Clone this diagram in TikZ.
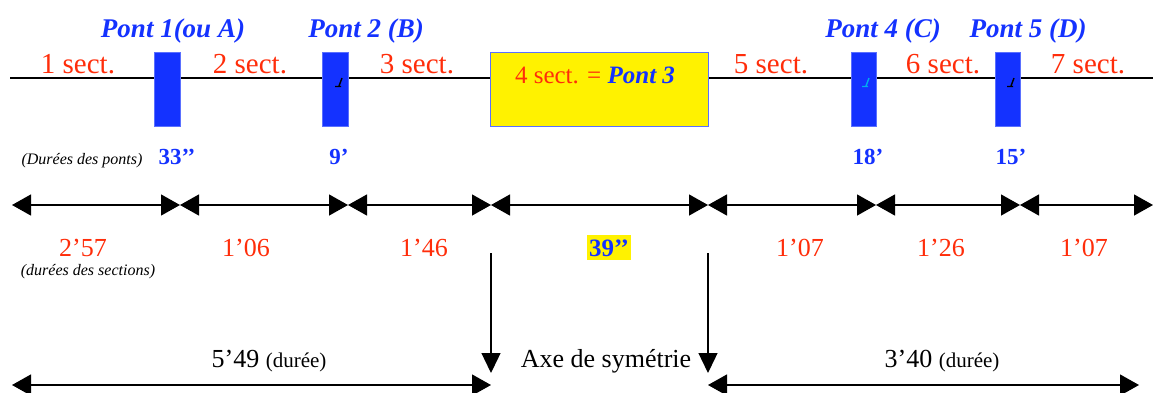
\documentclass[tikz,border=0pt]{standalone}
\usepackage{fontspec}
\setmainfont{Liberation Serif}
\usetikzlibrary{arrows.meta}
\definecolor{pontblue}{RGB}{20,50,255}
\definecolor{sectred}{RGB}{255,45,10}
\tikzset{
  pont/.style={fill=pontblue, draw=pontblue!70, line width=0.8pt, minimum height=74pt, inner sep=0pt},
  pontname/.style={anchor=base, text=pontblue, font=\fontsize{27}{27}\selectfont\bfseries\itshape},
  sect/.style={anchor=base, text=sectred, font=\fontsize{29}{29}\selectfont},
  duree/.style={anchor=base, text=sectred, font=\fontsize{26}{26}\selectfont},
  dureepont/.style={anchor=base, text=pontblue, font=\fontsize{23}{23}\selectfont\bfseries},
  remarque/.style={anchor=base, font=\fontsize{16}{16}\selectfont\itshape},
  total/.style={anchor=base, font=\fontsize{26}{26}\selectfont},
  cote/.style={line width=1.3pt, {Triangle[length=19pt,width=21pt]}-{Triangle[length=19pt,width=21pt]}},
  axe/.style={line width=1.3pt, -{Triangle[length=20pt,width=19pt]}}
}
\begin{document}
\begin{tikzpicture}[x=1pt, y=-1pt]
\useasboundingbox (0,0) rectangle (1153,392);
% la route
\coordinate (w) at (10,78);
\coordinate (e) at (1153,78);
\draw [line width=1.6pt] (w) -- (e);
% les ponts
\node [pont, minimum width=26pt] (p1) at (167,89) {};
\node [pont, minimum width=26pt] (p2) at (335,89) {};
\node [pont, fill=yellow, minimum width=218pt] (p3) at (599,89) {};
\node [pont, minimum width=25pt] (p4) at (863.5,89) {};
\node [pont, minimum width=25pt] (p5) at (1007.5,89) {};
\draw [line width=1.4pt] (342,78) -- (339,86) (335,86.5) -- (341,86.5);
\draw [cyan, line width=1.4pt] (869,78) -- (866,86) (862,86.5) -- (868,86.5);
\draw [line width=1.4pt] (1014,78) -- (1011,86) (1007,86.5) -- (1013,86.5);
\node [pontname] (n1) at (173,37) {Pont 1(ou A)};
\node [pontname] (n2) at (366,37) {Pont 2 (B)};
\node [pontname] (n4) at (883,37) {Pont 4 (C)};
\node [pontname] (n5) at (1028,37) {Pont 5 (D)};
% les sections
\node [sect] (s1) at (78,73) {1 sect.};
\node [sect] (s2) at (250,73) {2 sect.};
\node [sect] (s3) at (417,73) {3 sect.};
\node [anchor=base, font=\fontsize{25}{25}\selectfont] (s4) at (595,83)
  {\textcolor{sectred}{4 sect. =} \textcolor{pontblue}{\bfseries\itshape Pont 3}};
\node [sect] (s5) at (771,73) {5 sect.};
\node [sect] (s6) at (943,73) {6 sect.};
\node [sect] (s7) at (1088,73) {7 sect.};
% durees des ponts
\node [remarque] (rp) at (82,164) {(Durées des ponts)};
\node [dureepont] (d1) at (177,164) {33’’};
\node [dureepont] (d2) at (339,164) {9’};
\node [dureepont] (d4) at (868,164) {18’};
\node [dureepont] (d5) at (1011,164) {15’};
% cotes des sections
\coordinate (c0) at (12,205);
\coordinate (c1) at (180,205);
\coordinate (c2) at (348,205);
\coordinate (c3) at (491,205);
\coordinate (c4) at (708,205);
\coordinate (c5) at (876,205);
\coordinate (c6) at (1020,205);
\coordinate (c7) at (1153,205);
\draw [cote] (c0) -- (c1);
\draw [cote] (c1) -- (c2);
\draw [cote] (c2) -- (c3);
\draw [cote] (c3) -- (c4);
\draw [cote] (c4) -- (c5);
\draw [cote] (c5) -- (c6);
\draw [cote] (c6) -- (c7);
\node [duree] (t1) at (83,256) {2’57};
\node [duree] (t2) at (246,256) {1’06};
\node [duree] (t3) at (424,256) {1’46};
\node [dureepont, fill=yellow, inner xsep=2pt, inner ysep=4pt, font=\fontsize{25}{25}\selectfont\bfseries] (t4) at (609,256) {39’’};
\node [duree] (t5) at (800,256) {1’07};
\node [duree] (t6) at (941,256) {1’26};
\node [duree] (t7) at (1084,256) {1’07};
\node [remarque] (rs) at (88,275) {(durées des sections)};
% axe de symetrie
\coordinate (a1) at (491,253);
\coordinate (b1) at (491,373);
\coordinate (a2) at (708,253);
\coordinate (b2) at (708,373);
\draw [axe] (a1) -- (b1);
\draw [axe] (a2) -- (b2);
\node [total] (ax) at (606,367) {Axe de symétrie};
\node [total] (g) at (269,367) {5’49 {\fontsize{21}{21}\selectfont(durée)}};
\node [total] (d) at (942,367) {3’40 {\fontsize{21}{21}\selectfont(durée)}};
\coordinate (g0) at (12,385);
\coordinate (g1) at (491,385);
\coordinate (d0) at (708,385);
\coordinate (d1) at (1139,385);
\draw [cote] (g0) -- (g1);
\draw [cote] (d0) -- (d1);
\end{tikzpicture}
\end{document}
